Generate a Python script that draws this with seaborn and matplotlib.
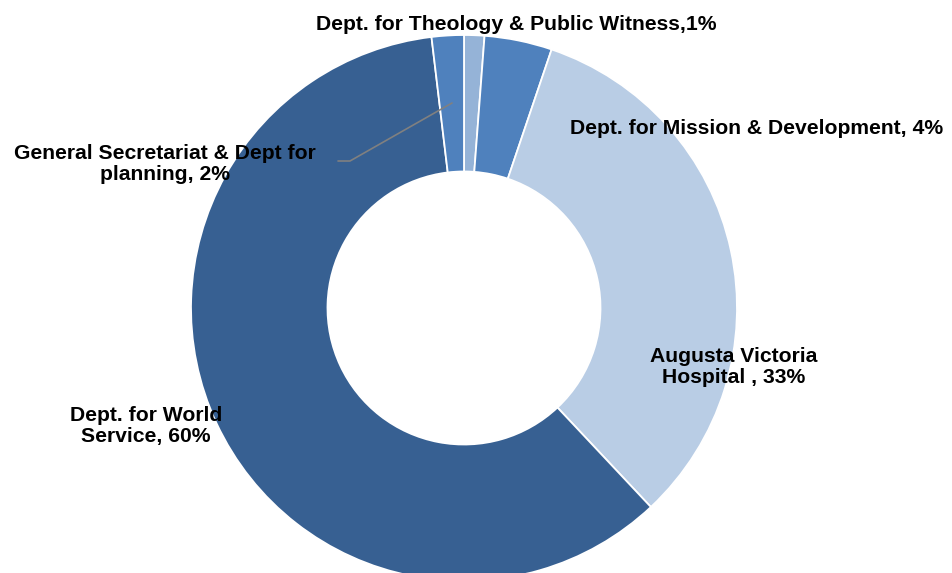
import matplotlib
matplotlib.use("Agg")
import matplotlib.pyplot as plt
import seaborn as sns

sns.set_style("white")
plt.rcParams['font.family'] = ['Liberation Sans', 'DejaVu Sans']

departments = ["Dept. for Theology & Public Witness,1%",
               "Dept. for Mission & Development, 4%",
               "Augusta Victoria\nHospital , 33%",
               "Dept. for World\nService, 60%",
               "General Secretariat & Dept for\nplanning, 2%"]
shares = [1.2, 4.0, 32.8, 60.1, 1.9]
colors = ["#95B3D7", "#4F81BD", "#B9CDE5", "#376092", "#4F81BD"]

W, H = 952, 573
fig = plt.figure(figsize=(W / 100, H / 100), dpi=100)
ax = fig.add_axes([0, 0, 1, 1])

cx, cy, R = 464, H - 308, 273
ax.pie(shares, colors=colors, startangle=90, counterclock=False,
       center=(cx, cy), radius=R, frame=True,
       wedgeprops=dict(width=R * 0.5, edgecolor='white', linewidth=1.3))
ax.set_xlim(0, W)
ax.set_ylim(0, H)
ax.set_aspect('equal')
ax.axis('off')

label_pos = [(516.5, 24), (757, 128), (734, 367), (146, 426), (165, 164)]
for text, (x, y) in zip(departments, label_pos):
    ax.text(x, H - y, text, ha='center', va='center', fontsize=15.2,
            fontweight='bold', color='black', linespacing=1.1)

# leader line for General Secretariat
ax.plot([452, 350, 338], [H - 103, H - 161, H - 161], color='#808080', lw=1.2)

fig.savefig("out.png", dpi=100)
